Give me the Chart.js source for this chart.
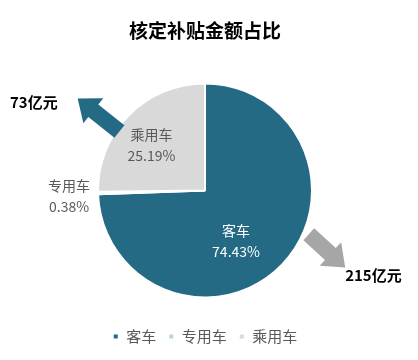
<!DOCTYPE html>
<html>
<head>
<meta charset="utf-8">
<script src="https://cdn.jsdelivr.net/npm/chart.js@4"></script>
<style>
  html, body { margin: 0; padding: 0; background: #fff; }
  #wrap { width: 418px; height: 360px; }
</style>
</head>
<body>
<div id="wrap"><canvas id="chart" width="418" height="360"></canvas></div>
<script>
// ---- data ----
var categories = ['客车', '专用车', '乘用车'];
var shares = [74.43, 0.38, 25.19];
var colors = ['#246a85', '#b4d4e0', '#d9d9d9'];
var amountLabels = ['215亿元', '73亿元'];

var FONT = '"Noto Sans CJK SC", "Noto Sans", sans-serif';

// label placement, in fractions of the radius from the pie centre
var labelSpots = [
  { dx: 0.29, dy: 0.47, color: '#ffffff' },
  { dx: -1.27, dy: 0.05, color: '#595959' },
  { dx: -0.50, dy: -0.43, color: '#595959' }
];

function drawArrow(ctx, x1, y1, x2, y2, shaft, head, headLen, color) {
  var ang = Math.atan2(y2 - y1, x2 - x1);
  var len = Math.hypot(x2 - x1, y2 - y1);
  ctx.save();
  ctx.translate(x1, y1);
  ctx.rotate(ang);
  ctx.beginPath();
  ctx.moveTo(0, -shaft / 2);
  ctx.lineTo(len - headLen, -shaft / 2);
  ctx.lineTo(len - headLen, -head / 2);
  ctx.lineTo(len, 0);
  ctx.lineTo(len - headLen, head / 2);
  ctx.lineTo(len - headLen, shaft / 2);
  ctx.lineTo(0, shaft / 2);
  ctx.closePath();
  ctx.fillStyle = color;
  ctx.fill();
  ctx.restore();
}

var extras = {
  id: 'extras',
  afterDatasetsDraw: function (chart) {
    var ctx = chart.ctx;
    var arcs = chart.getDatasetMeta(0).data;
    if (!arcs.length) return;
    var cx = arcs[0].x, cy = arcs[0].y, r = arcs[0].outerRadius;

    // slice labels
    ctx.save();
    ctx.font = '14px ' + FONT;
    ctx.textAlign = 'center';
    ctx.textBaseline = 'middle';
    arcs.forEach(function (a, i) {
      var s = labelSpots[i];
      var x = cx + s.dx * r, y = cy + s.dy * r;
      ctx.fillStyle = s.color;
      ctx.fillText(categories[i], x, y - 10);
      ctx.fillText(shares[i].toFixed(2) + '%', x, y + 11);
    });
    ctx.restore();

    // arrows with amounts
    drawArrow(ctx, cx - 0.80 * r, cy - 0.55 * r, cx - 1.19 * r, cy - 0.86 * r, 16, 32, 20, '#246a85');
    drawArrow(ctx, cx + 0.97 * r, cy + 0.41 * r, cx + 1.31 * r, cy + 0.72 * r, 16, 32, 20, '#a6a6a6');

    ctx.save();
    ctx.font = 'bold 15px ' + FONT;
    ctx.fillStyle = '#000';
    ctx.textBaseline = 'middle';
    ctx.textAlign = 'left';
    ctx.fillText(amountLabels[1], 10, cy - 0.82 * r);
    ctx.fillText(amountLabels[0], cx + 1.31 * r, cy + 0.79 * r);
    ctx.restore();
  }
};

new Chart(document.getElementById('chart'), {
  type: 'pie',
  data: {
    labels: categories,
    datasets: [{
      data: shares,
      backgroundColor: colors,
      borderColor: '#ffffff',
      borderWidth: 2,
      hoverOffset: 0
    }]
  },
  options: {
    responsive: false,
    animation: false,
    events: [],
    radius: 107,
    layout: { padding: { top: 0, bottom: 6, left: 0, right: 8 } },
    plugins: {
      title: {
        display: true,
        text: '核定补贴金额占比',
        color: '#000',
        font: { family: FONT, size: 19, weight: 'bold' },
        padding: { top: 19, bottom: 22 }
      },
      legend: {
        position: 'bottom',
        labels: {
          color: '#595959',
          font: { family: FONT, size: 15 },
          usePointStyle: true,
          pointStyle: 'rect',
          boxWidth: 6,
          boxHeight: 6,
          padding: 12
        }
      },
      tooltip: { enabled: false }
    }
  },
  plugins: [extras]
});
</script>
</body>
</html>
